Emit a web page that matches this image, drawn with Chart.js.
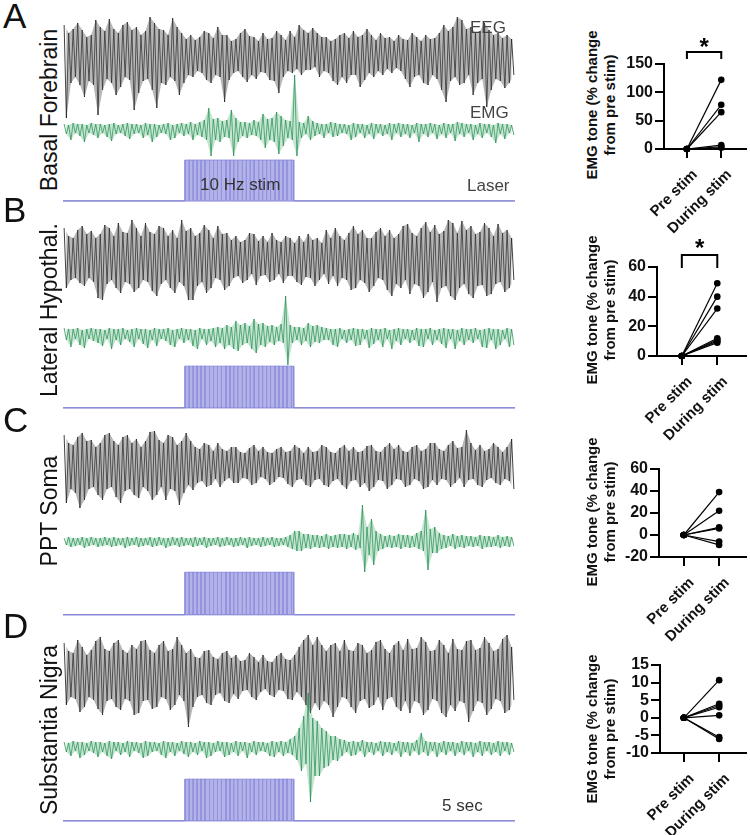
<!DOCTYPE html>
<html lang="en">
  <head>
    <meta charset="UTF-8" />
    <script src="https://cdn.jsdelivr.net/npm/chart.js@4/dist/chart.umd.min.js"></script>
    <style>
      body {
        margin: 0;
        width: 750px;
        height: 835px;
        position: relative;
        overflow: hidden;
        background: #fff;
        font-family: "Liberation Sans", Arial, sans-serif;
      }
      .t {
        position: absolute;
        white-space: nowrap;
        color: #222;
      }
    </style>
    <title>EMG tone during stim</title>
  </head>
  <body>
    <script>
      // traces: upper / lower envelope per 0.4 s bin (uV-ish units)
      const eegAHi = [30,22,26,32,25,18,20,35,28,24,36,26,22,30,33,25,28,20,24,38,32,26,25,20,37,28,22,16,20,15,18,24,22,17,28,20,20,14,16,22,26,19,18,14,22,16,17,24,20,15,24,18,30,25,22,27,22,18,18,14,16,20,22,17,24,18,20,26,20,15,22,17,18,14,20,16,15,22,18,14,20,16,17,22,30,24,28,38,35,26,28,22,24,32,25,20,22,17,20,16];
      const eegALo = [-63,-28,-22,-30,-42,-26,-30,-60,-35,-24,-28,-40,-32,-22,-25,-55,-38,-26,-24,-35,-53,-28,-30,-22,-26,-40,-28,-20,-22,-16,-18,-25,-28,-20,-22,-47,-25,-18,-16,-22,-27,-20,-24,-17,-18,-25,-26,-38,-22,-16,-18,-14,-20,-15,-15,-12,-22,-16,-18,-26,-30,-22,-28,-20,-20,-32,-25,-18,-22,-16,-20,-14,-18,-13,-16,-24,-32,-22,-20,-28,-30,-20,-24,-35,-47,-26,-22,-30,-28,-20,-40,-28,-24,-52,-35,-24,-26,-33,-28,-20];
      const emgAHi = [4,3,5,4,4,3,5,4,4,3,4,5,3,4,5,4,4,3,5,4,4,3,4,5,3,4,5,4,6,4, 6,8,20,9,10,7,8,18,10,6,6,5,8,6,14,9,10,16,12,8,7,53,6,5,12,7, 5,4,4,6,5,4,4,3,5,4,4,3,5,4,4,3,5,4,5,4,4,3,5,4,4,5,4,3,5,4,4,6,5,4,4,3,5,4,4,3,5,4,4,3];
      const emgALo = [-6,-12,-5,-8,-14,-5,-7,-10,-5,-9,-13,-6,-5,-8,-11,-6,-5,-10,-7,-14,-9,-5,-6,-12,-10,-5,-8,-6,-12,-7, -9,-12,-28,-12,-14,-9,-10,-28,-14,-8,-10,-7,-8,-12,-20,-12,-14,-26,-18,-10,-12,-28,-10,-6,-12,-8, -6,-10,-5,-9,-8,-5,-6,-12,-9,-5,-10,-6,-11,-5,-8,-6,-12,-5,-9,-6,-10,-5,-14,-6,-9,-5,-11,-6,-10,-5,-13,-6,-9,-5,-12,-6,-10,-5,-9,-15,-6,-11,-5,-7];

      const eegBHi = [30,22,20,28,32,24,27,20, 24,33,30,22,35,26,25,38,30,22, 35,26,24,32,30,22,28,20,38,27, 30,22,25,33,28,20,32,24,25,18, 22,16,18,25,24,17,22,16,25,18,16,22, 20,15,22,16,24,18,20,15,28,20, 30,22,18,25,32,24,28,20,20,26,30,22,28,20,24,32, 34,25,22,30,36,26,33,24,27,38,35,25,37,28, 32,24,26,35,30,22,34,25,28,20];
      const eegBLo = [-30,-22,-20,-25,-28,-20,-24,-40, -42,-26,-22,-30,-35,-24,-26,-34,-30,-22, -24,-33,-38,-26,-22,-30,-35,-24,-28,-42, -42,-28,-24,-35,-30,-20,-22,-32,-28,-20, -18,-25,-22,-16,-27,-18,-17,-24,-22,-16,-25,-18, -18,-24,-27,-19,-20,-28,-22,-16,-26,-18, -28,-20,-22,-32,-30,-22,-25,-34,-28,-20,-22,-32,-38,-26,-30,-22, -36,-26,-28,-40,-34,-24,-44,-30,-28,-38,-42,-30,-26,-36, -40,-28,-27,-38,-36,-26,-24,-34,-30,-22];
      const emgBHi = [5,4,4,5,3,4,5,4,4,3,5,4,4,5,3,4,5,4,4,3,5,4,4,5,3,4,5,4,4,3,5,4,4,5,6,5,8,6, 12,8,10,7,14,9,10,7, 8,6,9,37,8,6,6,5,10,7,8,6, 5,4,4,5,3,4,5,4,4,3,5,4,4,5,3,4,5,4,4,3,5,4,4,5,3,4,5,4,4,3,5,4,4,5,3,4,5,4,4,3,5,4];
      const emgBLo = [-7,-14,-6,-12,-15,-6,-8,-10,-13,-6,-16,-7,-12,-6,-9,-14,-6,-11,-15,-7,-13,-6,-8,-12,-14,-6,-10,-7,-13,-16,-6,-12,-8,-14,-10,-16,-12,-16, -18,-12,-10,-16,-20,-12,-14,-9, -12,-8,-10,-32,-10,-7,-12,-8,-14,-9,-10,-7, -7,-12,-14,-6,-10,-7,-13,-12,-6,-15,-11,-7,-14,-6,-16,-8,-12,-6,-10,-7,-13,-14,-6,-12,-7,-11,-15,-6,-16,-8,-12,-7,-10,-6,-14,-15,-7,-16,-12,-6,-14,-12];

      const eegCHi = [30,22,20,28,32,24,25,18, 22,30,32,24,20,28,30,22,26,18,24,33, 34,25,22,30,28,20,24,32, 24,18,16,22,20,14,22,16,14,18, 18,13,12,17,20,14,18,13,12,16,18,13,14,20,17,12, 18,13,14,20,18,13,12,17,20,14,18,13,14,19, 20,14,13,18,22,16,20,14,13,18,20,14,16,22, 22,16,14,20,24,17,18,35,22,15, 20,14,16,22,18,13,18,26];
      const eegCLo = [-38,-24,-28,-43,-35,-24,-22,-30, -35,-24,-22,-32,-38,-26,-24,-30,-33,-22,-26,-35, -30,-22,-35,-24,-26,-40,-28,-20, -25,-18,-16,-22,-20,-14,-22,-16,-13,-18, -18,-13,-14,-20,-18,-12,-14,-20,-17,-12,-13,-19,-22,-15,-14,-20, -22,-15,-14,-20,-22,-16,-14,-20,-24,-16,-15,-22,-18,-26, -22,-15,-16,-24,-20,-14,-15,-22,-20,-14,-16,-24,-22,-15, -20,-14,-15,-22,-18,-13,-22,-15,-14,-20, -22,-15,-13,-18,-20,-14,-16,-24];
      const emgCHi = [3,4,3,3,4,3,4,3,3,4,3,4,3,3,4,3,4,3,3,4,3,4,3,3,4,3,4,3,3,4,3,4,3,3,4,3,4,3,3,4,3,4,3,3,4,3,4,3,3,4,6,10, 10,7,7,6,6,5,7,5,6,7,7,6,8,6, 36,14,22,10, 7,5,6,5,7,6,6,5,8,10, 31,12,14,8, 6,5,7,5,6,5,5,4,6,5,5,4,6,4,5,4];
      const emgCLo = [-4,-6,-5,-4,-7,-5,-4,-6,-5,-4,-6,-5,-4,-7,-5,-4,-6,-5,-4,-6,-5,-4,-7,-5,-4,-6,-5,-4,-6,-5,-4,-7,-5,-4,-6,-5,-4,-6,-5,-4,-7,-5,-4,-6,-5,-4,-6,-5,-4,-6,-8,-10, -10,-7,-8,-6,-7,-6,-8,-6,-7,-6,-8,-6,-9,-7, -31,-14,-24,-10, -8,-6,-7,-6,-8,-6,-7,-6,-8,-10, -29,-12,-12,-8, -7,-5,-8,-6,-7,-5,-6,-5,-8,-6,-6,-5,-7,-5,-6,-5];

      const eegDHi = [32,24,22,35,28,20,25,34, 38,26,24,32,35,25,22,30,26,34, 35,25,22,30,34,24,26,38,30,22, 26,18,17,24,25,18,16,22,24,17, 20,14,15,22,18,13,20,14,13,19,22,16,15,20, 28,35,40,30,38,30,24,30,32,24, 35,25,24,32,30,22,25,33,35,26,22,30,34,25, 36,26,27,38,33,24,25,35,30,22,36,26,25,34, 35,25,27,38,32,24,26,36,40,28];
      const eegDLo = [-30,-22,-24,-37,-32,-22,-25,-34, -40,-26,-24,-32,-35,-24,-26,-40,-38,-26, -25,-34,-32,-22,-24,-35,-30,-20,-26,-52, -32,-22,-20,-28,-30,-20,-18,-26,-28,-19, -24,-16,-15,-22,-25,-17,-14,-20,-22,-15,-16,-24,-25,-17, -22,-30,-38,-28,-35,-26,-30,-42,-32,-22, -24,-32,-38,-26,-24,-33,-30,-22,-35,-24,-22,-32,-36,-26, -38,-26,-28,-40,-35,-24,-26,-38,-42,-30,-36,-26,-28,-47, -36,-26,-28,-40,-34,-24,-26,-38,-35,-25];
      const emgDHi = [4,3,5,4,4,3,5,4,4,3,5,4,4,3,5,4,4,3,5,4,4,3,5,4,4,3,5,4,4,3,5,4,4,3,5,4,4,3,5,4,4,3,5,4,4,3,5,4,5,4,7,10, 18,30,53,28,25,18,15,10,10,7, 6,4,5,4,6,4,4,3,5,4,4,3,5,4,4,3,6,13,5,4,4,3,5,4,4,3,5,4,4,3,5,4,4,3,5,4,4,3];
      const emgDLo = [-6,-10,-5,-12,-9,-5,-7,-11,-6,-10,-13,-5,-9,-6,-11,-5,-7,-12,-10,-6,-5,-9,-12,-6,-10,-5,-8,-11,-6,-9,-5,-12,-10,-6,-5,-11,-9,-6,-10,-5,-12,-6,-9,-5,-6,-10,-11,-6,-10,-7,-9,-14, -25,-18,-56,-30,-30,-22,-20,-14,-15,-10, -6,-10,-9,-5,-11,-6,-9,-5,-10,-6,-9,-5,-11,-6,-10,-5,-9,-6,-10,-5,-11,-6,-9,-5,-10,-6,-9,-5,-11,-6,-10,-5,-9,-6,-10,-5,-9,-6];

      // laser: stim window and visible pulse lines (s)
      const STIM_START = 10.78;
      const STIM_END = 20.42;
      const stimPulses = [10.8,11.15,11.5,11.85,12.2,12.55,12.95,13.3,13.65,14.0,14.4,14.75,15.1,15.45,15.85,16.2,16.55,16.9,17.3,17.65,18.0,18.35,18.75,19.1,19.45,19.8,20.2,20.38];

      // paired EMG tone, % change from pre stim
      const conditions = ["Pre stim", "During stim"];
      const toneAPre = [0, 0, 0, 0, 0, 0];
      const toneADuring = [122, 78, 65, 7, 4, 2];
      const toneBPre = [0, 0, 0, 0, 0, 0, 0];
      const toneBDuring = [49, 40, 32, 12, 11, 10, 9];
      const toneCPre = [0, 0, 0, 0, 0, 0];
      const toneCDuring = [39, 22, 7, 6, -6, -9];
      const toneDPre = [0, 0, 0, 0, 0, 0, 0];
      const toneDDuring = [10.7, 4, 3.5, 3, 0.7, -5.5, -6];

      const TOTAL_SEC = 40;
      const BIN_SEC = 0.4;
      const X0 = 63, TRACE_W = 452;

      const rows = [
        { letter: "A", name: "Basal Forebrain", hi: eegAHi, lo: eegALo, mHi: emgAHi, mLo: emgALo, eegY: 55, emgY: 128, laserTop: 160, laserBase: 201, nameY: 110, letterBase: 28 },
        { letter: "B", name: "Lateral Hypothal.", hi: eegBHi, lo: eegBLo, mHi: emgBHi, mLo: emgBLo, eegY: 258, emgY: 333, laserTop: 366, laserBase: 408, nameY: 310, letterBase: 222 },
        { letter: "C", name: "PPT Soma", hi: eegCHi, lo: eegCLo, mHi: emgCHi, mLo: emgCLo, eegY: 465, emgY: 541, laserTop: 572, laserBase: 615, nameY: 511, letterBase: 432 },
        { letter: "D", name: "Substantia Nigra", hi: eegDHi, lo: eegDLo, mHi: emgDHi, mLo: emgDLo, eegY: 675, emgY: 746, laserTop: 779, laserBase: 821, nameY: 730, letterBase: 638 },
      ];

      const plots = [
        { pre: toneAPre, during: toneADuring, min: 0, max: 150, step: 50, axisX: 664, top: 64, bottom: 149, xMin: -0.667, xMax: 1.72, titleY: 105, sig: { bar: 52, leg: 59, star: 41 } },
        { pre: toneBPre, during: toneBDuring, min: 0, max: 60, step: 20, axisX: 657, top: 267, bottom: 356, xMin: -0.70, xMax: 1.81, titleY: 310, sig: { bar: 255, leg: 268, star: 242 } },
        { pre: toneCPre, during: toneCDuring, min: -20, max: 60, step: 20, axisX: 659, top: 469, bottom: 557, xMin: -0.70, xMax: 1.76, titleY: 512 },
        { pre: toneDPre, during: toneDDuring, min: -10, max: 15, step: 5, axisX: 660, top: 665, bottom: 753, xMin: -0.676, xMax: 1.76, titleY: 729 },
      ];

      function place(left, top, w, h) {
        const cv = document.createElement("canvas");
        cv.width = w;
        cv.height = h;
        cv.style.cssText = `position:absolute;left:${left}px;top:${top}px;width:${w}px;height:${h}px`;
        document.body.appendChild(cv);
        return cv;
      }

      function text(str, x, base, size, opts = {}) {
        const d = document.createElement("div");
        d.className = "t";
        d.textContent = str;
        d.style.left = x + "px";
        d.style.top = base - 0.8465 * size + "px";
        d.style.fontSize = size + "px";
        d.style.lineHeight = size + "px";
        if (opts.color) d.style.color = opts.color;
        document.body.appendChild(d);
      }

      function rotText(lines, cx, cy, size, weight, lineH, w) {
        const h = lineH * lines.length;
        const d = document.createElement("div");
        d.className = "t";
        d.innerHTML = lines.join("<br>");
        d.style.cssText += `left:${cx - w / 2}px;top:${cy - h / 2}px;width:${w}px;height:${h}px;font-size:${size}px;font-weight:${weight};line-height:${lineH}px;text-align:center;transform:rotate(-90deg);color:#111`;
        document.body.appendChild(d);
      }

      const quiet = {
        responsive: false,
        animation: false,
        events: [],
        layout: { padding: 0 },
        plugins: { legend: { display: false }, tooltip: { enabled: false } },
      };

      // envelope band (fill) + zigzag between the bin extremes on top
      function trace(cv, hi, lo, style, yMin, yMax) {
        const pts = [];
        hi.forEach((v, k) => {
          pts.push({ x: (k + 0.25) * BIN_SEC, y: v });
          pts.push({ x: (k + 0.75) * BIN_SEC, y: lo[k] });
        });
        const upper = hi.map((v, k) => ({ x: (k + 0.25) * BIN_SEC, y: v }));
        const lower = lo.map((v, k) => ({ x: (k + 0.75) * BIN_SEC, y: v }));
        new Chart(cv, {
          type: "line",
          data: {
            datasets: [
              { data: upper, borderWidth: 0, pointRadius: 0, fill: "+1", backgroundColor: style.band, tension: 0 },
              { data: lower, borderWidth: 0, pointRadius: 0, fill: false, tension: 0 },
              { data: pts, borderColor: style.line, borderWidth: style.width, pointRadius: 0, fill: false, tension: 0 },
            ],
          },
          options: {
            ...quiet,
            scales: {
              x: { type: "linear", min: 0, max: TOTAL_SEC, display: false },
              y: { min: yMin, max: yMax, display: false },
            },
          },
        });
      }

      function laser(cv) {
        const block = [
          { x: 0, y: 0 }, { x: STIM_START, y: 0 }, { x: STIM_START, y: 1 },
          { x: STIM_END, y: 1 }, { x: STIM_END, y: 0 }, { x: TOTAL_SEC, y: 0 },
        ];
        const pulses = [{ x: 0, y: 0 }];
        stimPulses.forEach((t) => {
          pulses.push({ x: t, y: 0 }, { x: t, y: 1 }, { x: t + 0.03, y: 1 }, { x: t + 0.03, y: 0 });
        });
        pulses.push({ x: TOTAL_SEC, y: 0 });
        new Chart(cv, {
          type: "line",
          data: {
            datasets: [
              { data: block, borderColor: "rgba(140,140,220,0.9)", borderWidth: 1, fill: "origin", backgroundColor: "rgba(160,160,228,0.8)", pointRadius: 0, tension: 0 },
              { data: pulses, borderColor: "#5d5dc6", borderWidth: 1, fill: false, pointRadius: 0, tension: 0 },
            ],
          },
          options: {
            ...quiet,
            scales: {
              x: { type: "linear", min: 0, max: TOTAL_SEC, display: false },
              y: { min: -0.1, max: 1.1, display: false },
            },
          },
        });
      }

      const sigPlugin = {
        id: "sigBracket",
        afterDraw(chart, args, o) {
          if (!o.sig) return;
          const { ctx, chartArea, scales } = chart;
          const off = (y) => chartArea.top + (y - o.top);
          const x0 = scales.x.getPixelForValue(0);
          const x1 = scales.x.getPixelForValue(1);
          ctx.save();
          ctx.strokeStyle = "#000";
          ctx.lineWidth = 2;
          ctx.beginPath();
          ctx.moveTo(x0, off(o.sig.leg));
          ctx.lineTo(x0, off(o.sig.bar));
          ctx.lineTo(x1, off(o.sig.bar));
          ctx.lineTo(x1, off(o.sig.leg));
          ctx.stroke();
          ctx.fillStyle = "#000";
          ctx.font = "bold 24px 'Liberation Sans', Arial, sans-serif";
          ctx.textAlign = "center";
          ctx.textBaseline = "alphabetic";
          ctx.fillText("*", (x0 + x1) / 2, off(o.sig.star) + 13.5);
          ctx.restore();
        },
      };

      function paired(p) {
        const left = 620, width = 750 - left;
        const top = p.top - 45;
        const xAxisH = 96;
        const cv = place(left, top, width, p.bottom - top + xAxisH);
        const axisLine = { color: "#000", width: 2 };
        const tickGrid = { drawOnChartArea: false, drawTicks: true, tickLength: 9, color: "#000", lineWidth: 2 };
        new Chart(cv, {
          type: "scatter",
          data: {
            datasets: p.pre.map((v, i) => ({
              data: [{ x: 0, y: v }, { x: 1, y: p.during[i] }],
              showLine: true,
              borderColor: "#000",
              borderWidth: 1.2,
              pointRadius: 3.3,
              pointBackgroundColor: "#000",
              pointBorderWidth: 0,
              clip: false,
            })),
          },
          options: {
            ...quiet,
            layout: { padding: { top: 45, right: 0, left: 0, bottom: 0 } },
            plugins: { ...quiet.plugins, sigBracket: { sig: p.sig, top: p.top } },
            scales: {
              x: {
                type: "linear",
                min: p.xMin,
                max: p.xMax,
                afterBuildTicks: (s) => { s.ticks = [{ value: 0 }, { value: 1 }]; },
                afterFit: (s) => { s.height = xAxisH; },
                ticks: {
                  callback: (v) => conditions[v],
                  autoSkip: false,
                  minRotation: 45,
                  maxRotation: 45,
                  padding: 8,
                  labelOffset: 8,
                  color: "#111",
                  font: { family: "'Liberation Sans', Arial", weight: "bold", size: 15 },
                },
                grid: tickGrid,
                border: axisLine,
              },
              y: {
                min: p.min,
                max: p.max,
                afterFit: (s) => { s.width = p.axisX - left; },
                ticks: {
                  stepSize: p.step,
                  autoSkip: false,
                  padding: 2,
                  color: "#111",
                  font: { family: "'Liberation Sans', Arial", weight: "bold", size: 16 },
                },
                grid: tickGrid,
                border: axisLine,
              },
            },
          },
          plugins: [sigPlugin],
        });
        rotText(["EMG tone (% change", "from pre stim)"], 601, p.titleY, 15, "bold", 18, 200);
      }

      const eegStyle = { band: "rgba(95,95,95,0.45)", line: "#111", width: 0.8 };
      const emgStyle = { band: "rgba(70,170,110,0.3)", line: "#10813f", width: 0.7 };

      rows.forEach((r) => {
        trace(place(X0, r.eegY - 45, TRACE_W, 115), r.hi, r.lo, eegStyle, -70, 45);
        trace(place(X0, r.emgY - 60, TRACE_W, 120), r.mHi, r.mLo, emgStyle, -60, 60);
        const h = r.laserBase - r.laserTop;
        laser(place(X0, r.laserTop - 0.1 * h, TRACE_W, 1.2 * h));
        text(r.letter, 3, r.letterBase, 35, { color: "#111" });
        rotText([r.name], 49, r.nameY, 23, "normal", 26, 240);
      });

      text("EEG", 470, 33, 17, { color: "#444" });
      text("EMG", 470, 118, 17, { color: "#444" });
      text("Laser", 467, 191.5, 17, { color: "#444" });
      text("10 Hz stim", 200, 190, 17, { color: "#333" });
      text("5 sec", 442, 811.5, 17, { color: "#333" });

      plots.forEach(paired);
    </script>
  </body>
</html>
